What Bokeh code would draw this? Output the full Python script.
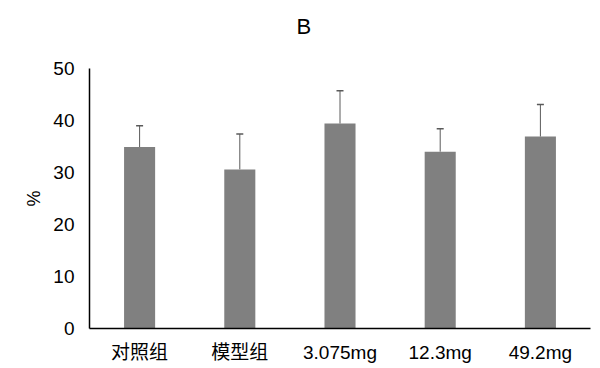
from bokeh.plotting import figure
from bokeh.models import ColumnDataSource, Whisker, TeeHead, Range1d
from bokeh.embed import file_html
from bokeh.resources import INLINE

categories = ["对照组", "模型组", "3.075mg", "12.3mg", "49.2mg"]
means = [34.9, 30.6, 39.4, 34.0, 36.9]
sds = [4.1, 6.8, 6.3, 4.4, 6.2]
y_ticks = [0, 10, 20, 30, 40, 50]
title_text = "B"

FONT = "Liberation Sans, Arial, Noto Sans CJK SC"

upper = [m + s for m, s in zip(means, sds)]
src = ColumnDataSource(dict(cat=categories, mean=means, upper=upper))

p = figure(x_range=categories, y_range=Range1d(0, 50), width=600, height=368,
           output_backend="svg", toolbar_location=None,
           min_border_left=89, min_border_right=10, min_border_top=68, min_border_bottom=40)
p.title.text = title_text + "\n "
p.title.align = "left"
p.title.offset = 207
p.title.text_font = FONT
p.title.text_font_size = "22px"
p.title.text_font_style = "normal"
p.title.text_color = "#000000"
p.title.standoff = 10

w = Whisker(base="cat", upper="upper", lower="mean", source=src,
            line_color="#5a5a5a", line_width=1,
            upper_head=TeeHead(size=7, line_color="#5a5a5a", line_width=1.5),
            lower_head=None)
p.add_layout(w)

p.vbar(x="cat", top="mean", width=0.31, source=src, fill_color="#808080", line_color=None)

p.xgrid.grid_line_color = None
p.ygrid.grid_line_color = None
p.outline_line_color = None
p.x_range.range_padding = 0

for ax in (p.xaxis, p.yaxis):
    ax.major_tick_line_color = None
    ax.minor_tick_line_color = None
    ax.axis_line_color = "#000000"
    ax.axis_line_width = 1.5
    ax.major_label_text_font = FONT
    ax.major_label_text_font_size = "19px"
    ax.major_label_text_color = "#000000"

p.yaxis.ticker = y_ticks
p.yaxis.major_label_standoff = 9
p.yaxis.axis_label = "%"
p.yaxis.axis_label_text_font = FONT
p.yaxis.axis_label_text_font_size = "18px"
p.yaxis.axis_label_text_font_style = "normal"
p.yaxis.axis_label_text_color = "#000000"
p.yaxis.axis_label_standoff = 6
p.xaxis.major_label_standoff = 7

open("out.html", "w").write(file_html(p, INLINE))
